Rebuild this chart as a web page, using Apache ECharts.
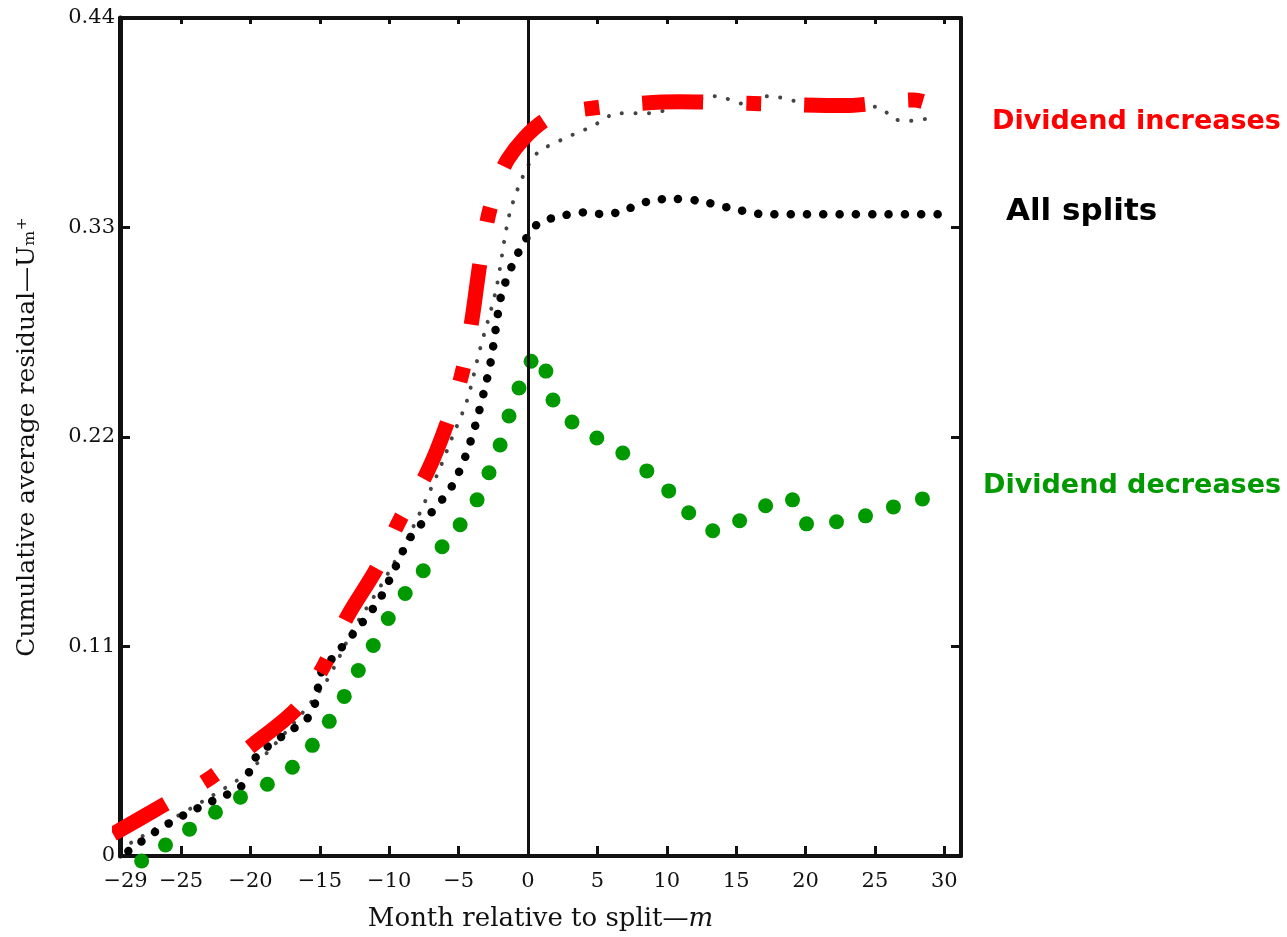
<!DOCTYPE html>
<html>
<head>
<meta charset="utf-8">
<script src="https://cdn.jsdelivr.net/npm/echarts@6/dist/echarts.min.js"></script>
<style>
html,body{margin:0;padding:0;background:#fff;}
#chart{width:1287px;height:937px;}
</style>
</head>
<body>
<div id="chart"></div>
<script>
// Month relative to split (m) and cumulative average residual (U)
const xTickLabels = [-29, -25, -20, -15, -10, -5, 0, 5, 10, 15, 20, 25, 30];
const xTicks = [-25, -20, -15, -10, -5, 0, 5, 10, 15, 20, 25, 30];

// Dividend increases (red dash-dot overlay)
const divIncreases = [
  [-29.9, 0.0115], [-26.2, 0.027], [-22.9, 0.041], [-19.9, 0.058], [-16.6, 0.078],
  [-14.7, 0.100], [-13.0, 0.126], [-10.9, 0.151], [-9.2, 0.177], [-7.3, 0.201],
  [-5.8, 0.228], [-4.7, 0.255], [-4.03, 0.282], [-3.45, 0.312], [-2.73, 0.340],
  [-1.44, 0.366], [1.37, 0.387], [5.0, 0.393], [10.9, 0.396], [16.8, 0.395],
  [22.8, 0.394], [27.8, 0.397], [28.9, 0.395], [31.0, 0.388]
];

// Original (scanned) dividend-increases curve, small dots
const divIncreasesOriginal = [
  [-28.6, 0.007], [-22.9, 0.031], [-20.5, 0.042], [-19.6, 0.048], [-16.5, 0.073],
  [-14.6, 0.091], [-13.7, 0.103], [-12.6, 0.119], [-10.6, 0.142], [-8.6, 0.168],
  [-6.5, 0.201], [-5.4, 0.221], [-4.4, 0.239], [-3.5, 0.265], [-2.3, 0.2975],
  [-1.37, 0.336], [-0.36, 0.357], [0.65, 0.369], [2.7, 0.377], [4.6, 0.383],
  [6.5, 0.390], [8.6, 0.390], [13.6, 0.399], [15.5, 0.395], [17.4, 0.399],
  [19.6, 0.396], [25.3, 0.393], [26.4, 0.387], [27.5, 0.386], [29.4, 0.388]
];

// All splits (black dotted)
const allSplits = [
  [-28.8, 0.0026], [-26.8, 0.013], [-24.8, 0.0215], [-22.7, 0.029], [-20.6, 0.037],
  [-19.6, 0.052], [-17.7, 0.063], [-15.8, 0.073], [-15.2, 0.084], [-15.0, 0.095],
  [-13.6, 0.108], [-12.0, 0.122], [-10.6, 0.136], [-9.6, 0.151], [-8.5, 0.167],
  [-7.0, 0.180], [-5.5, 0.194], [-4.5, 0.210], [-3.8, 0.226], [-3.2, 0.243],
  [-2.7, 0.259], [-2.3, 0.278], [-1.94, 0.294], [-1.15, 0.310], [-0.07, 0.325],
  [0.72, 0.332], [1.8, 0.335], [4.2, 0.338], [5.4, 0.337], [6.5, 0.338],
  [8.8, 0.344], [10.6, 0.345], [12.3, 0.344], [14.7, 0.340], [17.0, 0.337],
  [19.4, 0.337], [30.1, 0.337]
];

// Dividend decreases (green dots)
const divDecreases = [
  [-27.84, -0.0026], [-26.12, 0.0058], [-24.39, 0.0141], [-22.52, 0.0230], [-20.72, 0.0309],
  [-18.78, 0.0377], [-16.98, 0.0466], [-15.54, 0.0581], [-14.32, 0.0707], [-13.24, 0.0838],
  [-12.23, 0.0974], [-11.15, 0.1105], [-10.07, 0.1247], [-8.85, 0.1378], [-7.55, 0.1498],
  [-6.19, 0.1624], [-4.89, 0.1739], [-3.67, 0.1870], [-2.81, 0.2012], [-2.01, 0.2158],
  [-1.37, 0.2310], [-0.65, 0.2457], [0.22, 0.2598], [1.29, 0.2546], [1.80, 0.2394],
  [3.17, 0.2279], [4.96, 0.2195], [6.83, 0.2116], [8.56, 0.2022], [10.14, 0.1917],
  [11.58, 0.1802], [13.31, 0.1708], [15.25, 0.1760], [17.12, 0.1839], [19.06, 0.1870],
  [20.07, 0.1744], [22.23, 0.1755], [24.32, 0.1786], [26.33, 0.1833], [28.42, 0.1875]
];

const seriesLabels = ['Dividend increases', 'All splits', 'Dividend decreases'];

const serif = '"DejaVu Serif", "Liberation Serif", serif';
const chart = echarts.init(document.getElementById('chart'), null, {renderer: 'canvas'});

const axisLineStyle = {color: '#111', width: 4};

chart.setOption({
  animation: false,
  backgroundColor: '#ffffff',
  grid: {left: 120, right: 326, top: 18, bottom: 79, containLabel: false},
  xAxis: [{
    type: 'value', min: -29.4, max: 31.2, position: 'bottom',
    axisLine: {show: true, onZero: false, lineStyle: axisLineStyle},
    axisTick: {show: true, inside: true, length: 10, customValues: xTicks, lineStyle: {color: '#111', width: 3}},
    axisLabel: {customValues: xTickLabels, fontFamily: serif, fontSize: 21, color: '#111', margin: 15,
      formatter: v => (v < 0 ? '\u2212' + Math.abs(v) : String(v))},
    splitLine: {show: false},
    name: 'Month relative to split\u2014{i|m}', nameLocation: 'middle', nameGap: 50,
    nameTextStyle: {fontFamily: serif, fontSize: 26, color: '#111', rich: {i: {fontFamily: serif, fontSize: 26, fontStyle: 'italic', color: '#111'}}}
  }, {
    type: 'value', min: -29.4, max: 31.2, position: 'top',
    axisLine: {show: true, onZero: false, lineStyle: axisLineStyle},
    axisTick: {show: true, inside: true, length: 6, customValues: xTicks, lineStyle: {color: '#111', width: 3}},
    axisLabel: {show: false}, splitLine: {show: false}
  }],
  yAxis: [{
    type: 'value', min: 0, max: 0.44, interval: 0.11, position: 'left',
    axisLine: {show: true, onZero: false, lineStyle: {color: '#111', width: 5}},
    axisTick: {show: true, inside: true, length: 10, lineStyle: {color: '#111', width: 3}},
    axisLabel: {fontFamily: serif, fontSize: 21, color: '#111', margin: 5,
      formatter: v => (Math.abs(v) < 1e-9 ? '0' : v.toFixed(2))},
    splitLine: {show: false},
    name: 'Cumulative average residual\u2014U\u2098\u207A', nameLocation: 'middle', nameGap: 80,
    nameTextStyle: {fontFamily: serif, fontSize: 25, color: '#111'}
  }, {
    type: 'value', min: 0, max: 0.44, interval: 0.11, position: 'right',
    axisLine: {show: true, onZero: false, lineStyle: axisLineStyle},
    axisTick: {show: true, inside: true, length: 10, lineStyle: {color: '#111', width: 3}},
    axisLabel: {show: false}, splitLine: {show: false}
  }],
  series: [
    {
      name: 'split line', type: 'line', data: [], xAxisIndex: 0, yAxisIndex: 0,
      markLine: {silent: true, symbol: 'none', label: {show: false},
        lineStyle: {color: '#111', width: 3, type: 'solid'},
        data: [{xAxis: 0}]}
    },
    {
      name: 'original', type: 'line', data: divIncreasesOriginal, smooth: 0.3, showSymbol: false,
      clip: false, lineStyle: {color: '#444', width: 4, type: [0.1, 13.5], cap: 'round'}, z: 2
    },
    {
      name: seriesLabels[1], type: 'line', data: allSplits, smooth: 0.3, showSymbol: false,
      clip: false, lineStyle: {color: '#000', width: 8.5, type: [0.1, 16.2], cap: 'round'}, z: 3
    },
    {
      name: seriesLabels[2], type: 'scatter', data: divDecreases, symbol: 'circle', symbolSize: 15,
      clip: false, itemStyle: {color: '#009900', opacity: 1}, z: 4
    },
    {
      name: seriesLabels[0], type: 'line', data: divIncreases, smooth: 0.3, showSymbol: false,
      clip: false, lineStyle: {color: '#ff0000', width: 15, type: [61, 43, 15, 43], cap: 'butt'}, z: 5
    }
  ],
  graphic: [
    {type: 'text', x: 992, y: 122, style: {text: seriesLabels[0], fill: '#ff0000', font: 'bold 27px "DejaVu Sans"', verticalAlign: 'middle', align: 'left'}},
    {type: 'text', x: 1006, y: 212, style: {text: seriesLabels[1], fill: '#000000', font: 'bold 31px "DejaVu Sans"', verticalAlign: 'middle', align: 'left'}},
    {type: 'text', x: 983, y: 486, style: {text: seriesLabels[2], fill: '#009900', font: 'bold 27px "DejaVu Sans"', verticalAlign: 'middle', align: 'left'}}
  ]
});
</script>
</body>
</html>
